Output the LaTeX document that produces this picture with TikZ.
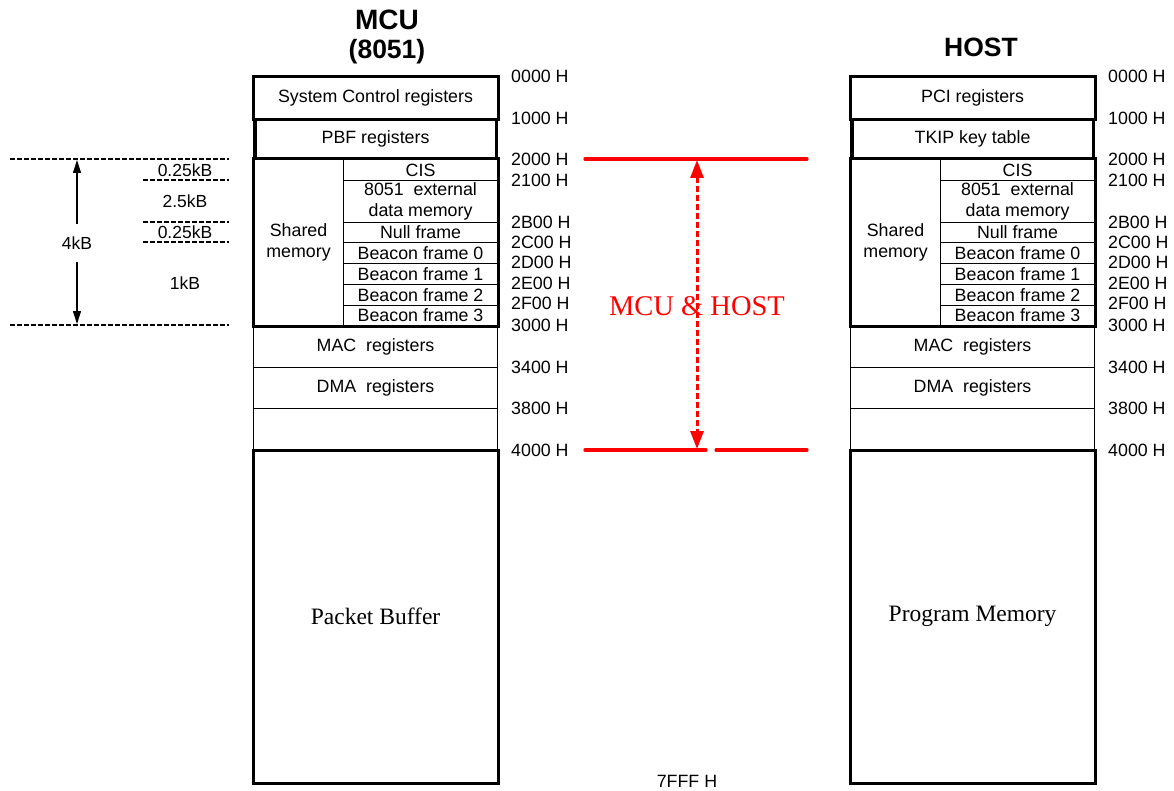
\documentclass[tikz,border=0pt]{standalone}
\usepackage{fontspec}
\setmainfont{Liberation Serif}
\setsansfont{Liberation Sans}
\usetikzlibrary{arrows.meta}
\tikzset{
  cell/.style={draw, line width=1.1pt, inner sep=0pt, anchor=north west, align=center,
    font=\sffamily\fontsize{17.8}{21}\selectfont},
  thickbox/.style={draw, line width=3pt},
  addr/.style={anchor=west, inner sep=0pt, font=\sffamily\fontsize{17.8}{21}\selectfont},
  smalltxt/.style={inner sep=1pt, font=\sffamily\fontsize{17.5}{21}\selectfont},
  titletxt/.style={inner sep=0pt, font=\sffamily\bfseries\fontsize{26.5}{30}\selectfont},
  bigserif/.style={font=\rmfamily\fontsize{23.5}{27}\selectfont},
  scaledash/.style={line width=1.4pt, dash pattern=on 5pt off 2pt},
  redline/.style={red, line width=3.2pt, line cap=round},
}
\newcommand\memmap[5]{%
  \begin{scope}[xshift=#2]
    \node[cell, minimum width=244, minimum height=41] (#1sys) at (253,77) {#3};
    \node[cell, minimum width=244, minimum height=41] (#1pbf) at (253,118) {#4};
    \node[cell, minimum width=90, minimum height=166] (#1sh) at (253,159) {Shared\\memory};
    \node[cell, minimum width=154, minimum height=21] (#1cis) at (343,159) {CIS};
    \node[cell, minimum width=154, minimum height=42] (#1ext) at (343,180) {8051\ \ external\\data memory};
    \node[cell, minimum width=154, minimum height=20] (#1null) at (343,222) {Null frame};
    \node[cell, minimum width=154, minimum height=21] (#1bz) at (343,242) {Beacon frame 0};
    \node[cell, minimum width=154, minimum height=21] (#1bo) at (343,263) {Beacon frame 1};
    \node[cell, minimum width=154, minimum height=21] (#1bt) at (343,284) {Beacon frame 2};
    \node[cell, minimum width=154, minimum height=20] (#1bh) at (343,305) {Beacon frame 3};
    \node[cell, minimum width=244, minimum height=42] (#1mac) at (253,325) {MAC\ \ registers};
    \node[cell, minimum width=244, minimum height=41] (#1dma) at (253,367) {DMA\ \ registers};
    \node[cell, minimum width=244, minimum height=42] (#1emp) at (253,408) {};
    \node[cell, bigserif, minimum width=244, minimum height=332] (#1pb) at (253,450) {#5};
    \draw[thickbox] (#1sys.north west) rectangle (#1sys.south east);
    \draw[thickbox] ([shift={(2pt,-2pt)}]#1pbf.north west) rectangle ([shift={(-2pt,2pt)}]#1pbf.south east);
    \draw[thickbox] (#1sh.north west) rectangle (#1bh.south east);
    \draw[thickbox] (#1pb.north west) rectangle (#1pb.south east);
    \foreach \a/\y in {0000/76,1000/118,2000/159,2100/180,2B00/222,2C00/242,2D00/262,2E00/283,2F00/303,3000/325,3400/367,3800/408,4000/450}
      \node[addr] (#1a\a) at (511,\y) {\a\ H};
  \end{scope}}
\begin{document}
\begin{tikzpicture}[x=1pt,y=-1pt]
  \useasboundingbox (0,0) rectangle (1174,791);
  % titles
  \node[titletxt, font=\sffamily\bfseries\fontsize{28}{30}\selectfont] (mcut) at (387,20) {MCU};
  \node[titletxt] (mcub) at (387,52) {(8051)};
  \node[titletxt] (hostt) at (981,47) {HOST};
  % memory maps
  \memmap{m}{0}{System Control registers}{PBF registers}{Packet Buffer}
  \memmap{h}{597}{PCI registers}{TKIP key table}{Program Memory}
  \node[smalltxt, font=\sffamily\fontsize{17.8}{21}\selectfont] (end) at (687,781) {7FFF\ H};
  % left scale
  \coordinate (d1a) at (10,159);  \coordinate (d1b) at (229,159);
  \coordinate (d2a) at (143,180); \coordinate (d2b) at (229,180);
  \coordinate (d3a) at (143,222); \coordinate (d3b) at (229,222);
  \coordinate (d4a) at (143,242); \coordinate (d4b) at (229,242);
  \coordinate (d5a) at (10,325);  \coordinate (d5b) at (229,325);
  \draw[scaledash] (d1a) -- (d1b);
  \draw[scaledash] (d2a) -- (d2b);
  \draw[scaledash] (d3a) -- (d3b);
  \draw[scaledash] (d4a) -- (d4b);
  \draw[scaledash] (d5a) -- (d5b);
  \node[smalltxt] (s1) at (185,170) {0.25kB};
  \node[smalltxt] (s2) at (185,201) {2.5kB};
  \node[smalltxt] (s3) at (185,232) {0.25kB};
  \node[smalltxt] (s4) at (185,283) {1kB};
  \node[smalltxt, inner sep=12pt] (k4) at (77,243) {4kB};
  \coordinate (kt) at (77,160);
  \coordinate (kb) at (77,324);
  \draw[line width=1.1pt, -{Triangle[length=13pt,width=8pt]}] (k4.north) -- (kt);
  \draw[line width=1.1pt, -{Triangle[length=13pt,width=8pt]}] (k4.south) -- (kb);
  % red shared region marker
  \coordinate (r1a) at (585,159); \coordinate (r1b) at (807,159);
  \coordinate (r2a) at (585,450); \coordinate (r2b) at (706,450);
  \coordinate (r2c) at (716,450); \coordinate (r2d) at (807,450);
  \draw[redline] (r1a) -- (r1b);
  \draw[redline] (r2a) -- (r2b);
  \draw[redline] (r2c) -- (r2d);
  \coordinate (ra) at (697,160);
  \coordinate (rb) at (697,449);
  \draw[red, line width=3pt, dash pattern=on 6pt off 3pt,
        {Triangle[length=18pt,width=13pt]}-{Triangle[length=18pt,width=13pt]}] (ra) -- (rb);
  \node[red, font=\rmfamily\fontsize{28.5}{32}\selectfont, inner sep=0pt] (share) at (697,306) {MCU \& HOST};
\end{tikzpicture}
\end{document}
